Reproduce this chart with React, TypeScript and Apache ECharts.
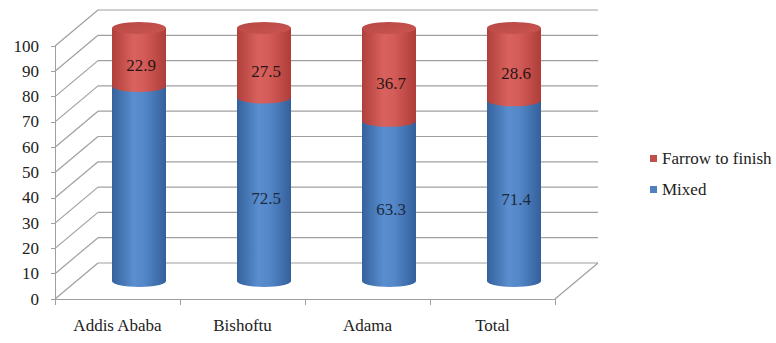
import React, { useEffect, useRef } from "react";
import * as echarts from "echarts";

const categories = ["Addis Ababa", "Bishoftu", "Adama", "Total"];
const mixed = [77.1, 72.5, 63.3, 71.4];
const farrow = [22.9, 27.5, 36.7, 28.6];
const mixedLabelShown = [false, true, true, true];
const yTicks = [0, 10, 20, 30, 40, 50, 60, 70, 80, 90, 100];

const FONT = "Liberation Serif";
const WALL_DX = 43;
const WALL_DY = -36;
const CYL_DX = 21.5;
const CYL_DY = -18;
const RX = 27;
const RY = 6;
const GRID = "#a0a0a0";

const blueGrad = () =>
  new echarts.graphic.LinearGradient(0, 0, 1, 0, [
    { offset: 0, color: "#34629c" },
    { offset: 0.4, color: "#5a8ecf" },
    { offset: 0.6, color: "#5487c8" },
    { offset: 1, color: "#33609b" },
  ]);
const redGrad = () =>
  new echarts.graphic.LinearGradient(0, 0, 1, 0, [
    { offset: 0, color: "#b03f3b" },
    { offset: 0.4, color: "#d9625e" },
    { offset: 0.6, color: "#d45b57" },
    { offset: 1, color: "#ae3d39" },
  ]);

function makeCylinderRender(kind: "mixed" | "farrow") {
  return (params: any, api: any) => {
    const i = api.value(0);
    const start = api.value(1);
    const end = api.value(2);
    const show = api.value(3);
    const base = api.coord([i, start]);
    const top = api.coord([i, end]);
    const cx = base[0] + CYL_DX;
    const yBot = base[1] + CYL_DY;
    const yTop = top[1] + CYL_DY;
    const l = cx - RX;
    const r = cx + RX;
    const body =
      `M ${l} ${yTop} L ${l} ${yBot} A ${RX} ${RY} 0 0 0 ${r} ${yBot} L ${r} ${yTop} Z`;
    const children: any[] = [
      {
        type: "path",
        shape: { pathData: body },
        style: { fill: kind === "mixed" ? blueGrad() : redGrad(), stroke: null },
      },
    ];
    if (kind === "farrow") {
      const ell = `M ${l} ${yTop} A ${RX} ${RY} 0 1 0 ${r} ${yTop} A ${RX} ${RY} 0 1 0 ${l} ${yTop} Z`;
      children.push({
        type: "path",
        shape: { pathData: ell },
        style: {
          fill: new echarts.graphic.LinearGradient(0, 0, 1, 1, [
            { offset: 0, color: "#b84744" },
            { offset: 1, color: "#c9554f" },
          ]),
          stroke: null,
        },
      });
    }
    if (show) {
      const val = end - start;
      children.push({
        type: "text",
        x: cx + 2,
        y: (yTop + yBot) / 2 + 9,
        style: {
          text: val.toFixed(1),
          align: "center",
          verticalAlign: "middle",
          fontFamily: FONT,
          fontSize: 17,
          fill: kind === "mixed" ? "#1c2a40" : "#2a1514",
        },
      });
    }
    return { type: "group", children };
  };
}

export default function App() {
  const ref = useRef<HTMLDivElement>(null);
  useEffect(() => {
    if (!ref.current) return;
    const chart = echarts.init(ref.current, undefined, { renderer: "svg" });
    chart.setOption({
      animation: false,
      backgroundColor: "#ffffff",
      textStyle: { fontFamily: FONT },
      grid: { left: 55, top: 46, width: 500, height: 253 },
      legend: {
        data: ["Farrow to finish", "Mixed"],
        orient: "vertical",
        left: 645,
        top: 145,
        icon: "rect",
        itemWidth: 7,
        itemHeight: 7,
        itemGap: 14,
        textStyle: { fontFamily: FONT, fontSize: 17, color: "#222" },
      },
      xAxis: {
        type: "category",
        data: categories,
        axisLine: { show: true, lineStyle: { color: GRID } },
        axisTick: { show: true, length: 6, lineStyle: { color: GRID } },
        axisLabel: { fontFamily: FONT, fontSize: 17, color: "#222", margin: 18 },
        splitLine: { show: false },
      },
      yAxis: {
        type: "value",
        min: 0,
        max: 100,
        interval: 10,
        axisLine: { show: true, lineStyle: { color: GRID } },
        axisTick: { show: true, length: 4, lineStyle: { color: GRID } },
        axisLabel: { fontFamily: FONT, fontSize: 17, color: "#222", margin: 16 },
        splitLine: { show: false },
      },
      series: [
        {
          type: "custom",
          name: "wall",
          silent: true,
          z: 1,
          data: yTicks.map((v) => [0, v]),
          encode: { x: 0, y: 1 },
          renderItem: (params: any, api: any) => {
            const v = api.value(1);
            const y = api.coord([0, v])[1];
            const x0 = params.coordSys.x;
            const x1 = x0 + params.coordSys.width;
            const ls = { stroke: GRID, lineWidth: 1.2 };
            const children: any[] = [
              { type: "line", shape: { x1: x0, y1: y, x2: x0 + WALL_DX, y2: y + WALL_DY }, style: ls },
              { type: "line", shape: { x1: x0 + WALL_DX, y1: y + WALL_DY, x2: x1 + WALL_DX, y2: y + WALL_DY }, style: ls },
            ];
            if (v === 0) {
              children.push({ type: "line", shape: { x1: x1, y1: y, x2: x1 + WALL_DX, y2: y + WALL_DY }, style: ls });
            }
            return { type: "group", children };
          },
        },
        {
          type: "custom",
          name: "Mixed",
          z: 2,
          itemStyle: { color: "#4F81BD" },
          data: mixed.map((v, i) => [i, 0, v, mixedLabelShown[i] ? 1 : 0]),
          encode: { x: 0, y: 2 },
          renderItem: makeCylinderRender("mixed"),
        },
        {
          type: "custom",
          name: "Farrow to finish",
          z: 3,
          itemStyle: { color: "#C0504D" },
          data: farrow.map((v, i) => [i, mixed[i], mixed[i] + v, 1]),
          encode: { x: 0, y: 2 },
          renderItem: makeCylinderRender("farrow"),
        },
      ],
    });
    return () => chart.dispose();
  }, []);
  return <div ref={ref} style={{ width: 776, height: 343, position: "absolute", left: 0, top: 0 }} />;
}
